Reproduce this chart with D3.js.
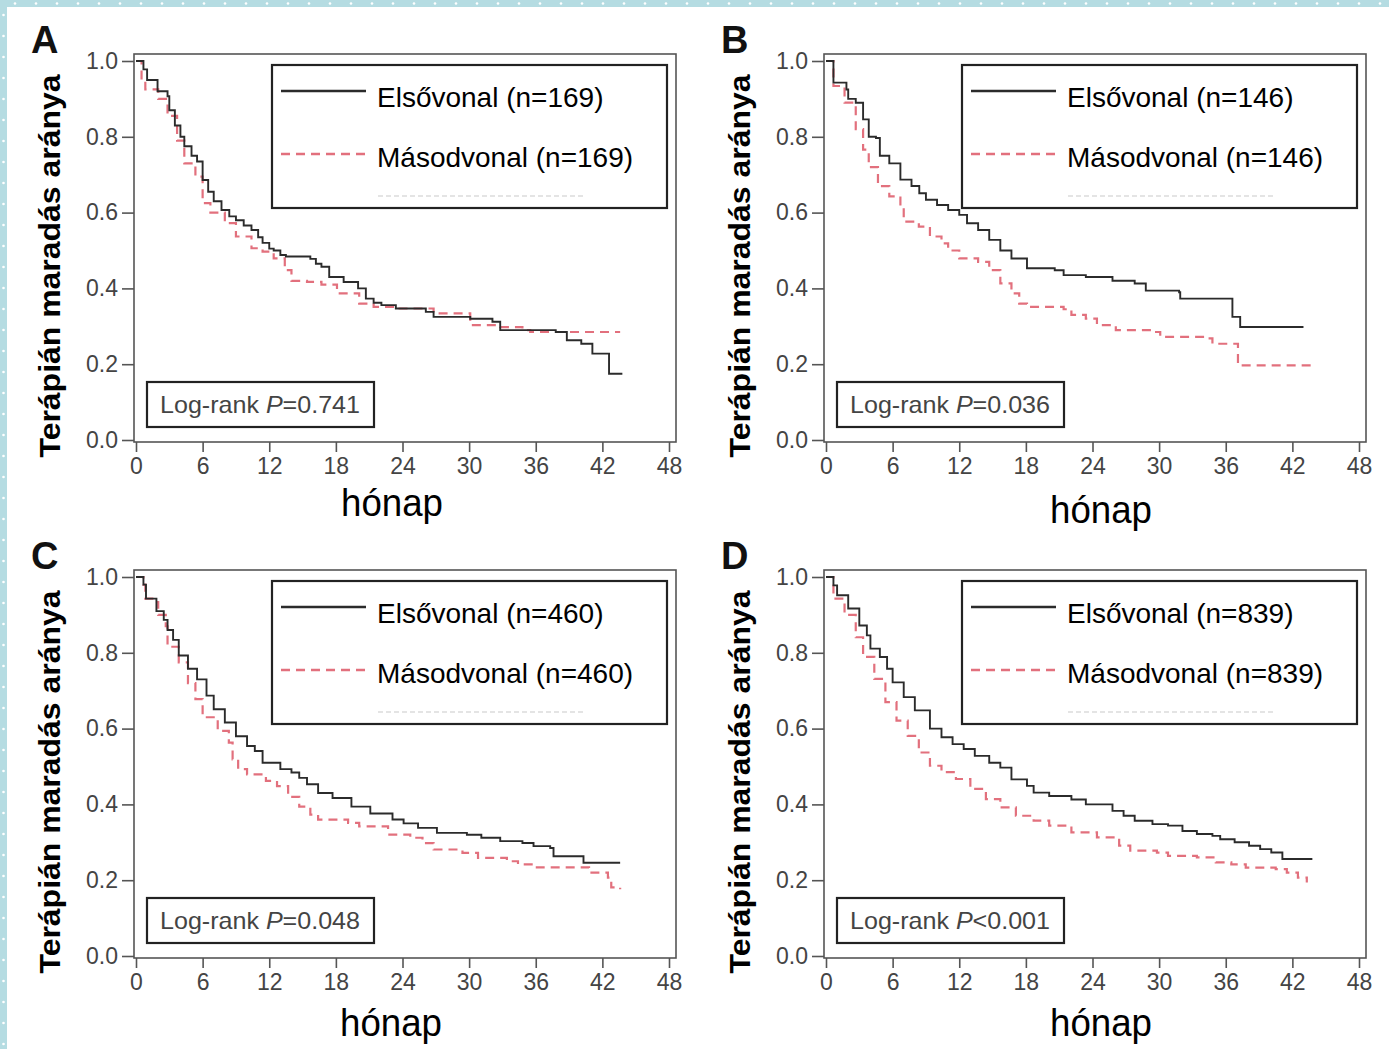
<!DOCTYPE html>
<html>
<head>
<meta charset="utf-8">
<script src="https://cdn.jsdelivr.net/npm/d3@7"></script>
<style>
  body { margin: 0; background: #fff; }
  svg { display: block; font-family: "Liberation Sans", Arial, sans-serif; }
</style>
</head>
<body>
<div id="chart"></div>
<script>
// survival curves: [month, proportion still on therapy]
var aFirst = [[0,1],[0.67,0.978],[1.0,0.95],[1.94,0.92],[2.84,0.907],[3.0,0.87],[3.5,0.83],[4.0,0.80],[4.35,0.775],[5.0,0.75],[5.5,0.735],[6.0,0.686],[6.5,0.655],[7.0,0.63],[7.7,0.607],[8.4,0.59],[9.0,0.58],[9.7,0.566],[10.4,0.554],[11.0,0.535],[11.4,0.52],[12.0,0.505],[12.4,0.5],[13.0,0.488],[13.5,0.484],[15.7,0.478],[16.2,0.465],[16.7,0.457],[17.4,0.43],[18.7,0.417],[20.0,0.40],[20.7,0.373],[21.4,0.362],[22.1,0.356],[23.4,0.347],[26.1,0.338],[26.8,0.325],[30.1,0.32],[32.1,0.312],[32.8,0.29],[37.8,0.285],[38.8,0.263],[40.1,0.254],[41.1,0.228],[42.6,0.175],[43.8,0.175]];
var aSecond = [[0,1],[0.5,0.95],[0.84,0.925],[2.0,0.90],[2.84,0.855],[3.7,0.79],[4.35,0.73],[5.35,0.695],[6.0,0.625],[6.7,0.6],[8.0,0.572],[9.0,0.537],[10.4,0.506],[11.4,0.497],[12.4,0.479],[13.4,0.448],[14.0,0.42],[15.4,0.417],[16.7,0.41],[18.1,0.387],[20.1,0.36],[21.4,0.351],[23.4,0.347],[26.8,0.334],[30.1,0.303],[32.8,0.298],[34.8,0.29],[35.5,0.285],[43.6,0.285]];

var bFirst = [[0,1],[0.67,0.943],[1.84,0.925],[2.0,0.90],[2.68,0.89],[3.34,0.846],[3.85,0.80],[4.5,0.797],[4.85,0.75],[5.7,0.73],[6.7,0.687],[7.7,0.67],[8.4,0.651],[9.0,0.634],[10.0,0.62],[11.0,0.607],[12.0,0.594],[12.7,0.572],[13.7,0.554],[14.7,0.528],[15.7,0.50],[16.7,0.479],[18.1,0.453],[20.6,0.448],[21.4,0.435],[23.4,0.43],[25.8,0.42],[27.8,0.413],[28.8,0.394],[31.8,0.39],[31.9,0.373],[36.6,0.325],[37.3,0.298],[43.0,0.298]];
var bSecond = [[0,1],[0.67,0.934],[1.67,0.89],[2.68,0.82],[3.34,0.766],[3.85,0.72],[4.68,0.67],[5.7,0.643],[6.7,0.616],[7.0,0.576],[8.36,0.563],[9.36,0.537],[10.4,0.519],[11.0,0.50],[12.0,0.479],[13.7,0.47],[14.7,0.448],[15.7,0.413],[16.7,0.387],[17.4,0.36],[18.1,0.351],[21.4,0.345],[22.1,0.33],[23.4,0.32],[24.4,0.303],[26.1,0.29],[29.4,0.285],[30.1,0.272],[34.4,0.268],[34.8,0.254],[37.1,0.197],[43.8,0.197]];

var cFirst = [[0,1],[0.67,0.98],[0.9,0.943],[1.84,0.91],[2.5,0.887],[2.84,0.86],[3.34,0.834],[3.85,0.793],[4.68,0.758],[5.5,0.73],[6.35,0.687],[7.0,0.651],[8.0,0.616],[9.0,0.58],[10.0,0.554],[10.7,0.541],[11.4,0.51],[13.0,0.493],[14.0,0.484],[14.7,0.47],[15.4,0.453],[16.4,0.43],[17.7,0.417],[19.4,0.394],[21.1,0.376],[23.1,0.36],[24.1,0.35],[25.4,0.338],[27.1,0.325],[29.8,0.32],[31.1,0.312],[32.8,0.303],[34.8,0.298],[35.8,0.29],[37.3,0.285],[37.6,0.263],[40.3,0.246],[43.6,0.246]];
var cSecond = [[0,1],[0.67,0.98],[0.84,0.943],[1.67,0.934],[2.0,0.90],[2.68,0.87],[2.84,0.816],[3.85,0.775],[4.68,0.72],[5.35,0.678],[6.0,0.63],[7.36,0.594],[8.36,0.563],[8.7,0.519],[9.2,0.493],[10.0,0.479],[11.7,0.462],[12.7,0.448],[13.7,0.42],[14.7,0.394],[15.7,0.373],[16.4,0.36],[19.1,0.351],[20.1,0.342],[22.7,0.32],[24.7,0.312],[25.8,0.298],[26.8,0.281],[29.4,0.272],[30.8,0.259],[33.4,0.25],[34.4,0.242],[36.1,0.234],[40.8,0.22],[42.5,0.207],[42.8,0.181],[43.6,0.176]];

var dFirst = [[0,1],[0.67,0.978],[1.0,0.952],[2.0,0.917],[3.0,0.872],[3.68,0.846],[4.0,0.811],[4.85,0.789],[5.5,0.758],[6.0,0.722],[7.0,0.683],[8.0,0.648],[9.36,0.6],[10.4,0.577],[11.4,0.559],[12.4,0.546],[13.4,0.528],[14.7,0.51],[15.7,0.497],[16.7,0.466],[18.1,0.449],[18.7,0.431],[20.1,0.422],[22.1,0.413],[23.4,0.40],[25.8,0.383],[26.8,0.37],[27.8,0.357],[29.4,0.348],[30.8,0.344],[32.1,0.33],[33.4,0.322],[34.8,0.317],[35.5,0.308],[36.8,0.30],[38.1,0.291],[39.1,0.282],[40.1,0.273],[41.1,0.256],[43.8,0.256]];
var dSecond = [[0,1],[0.67,0.943],[1.67,0.90],[2.68,0.841],[3.34,0.789],[4.35,0.731],[5.35,0.67],[6.35,0.621],[7.36,0.581],[8.36,0.537],[9.36,0.502],[10.4,0.485],[11.7,0.467],[13.0,0.441],[14.4,0.414],[15.7,0.392],[17.1,0.37],[18.7,0.357],[20.1,0.344],[22.1,0.326],[24.4,0.313],[26.4,0.291],[27.4,0.278],[29.8,0.273],[30.8,0.264],[33.4,0.26],[35.1,0.247],[36.5,0.242],[37.8,0.233],[40.5,0.229],[41.5,0.22],[42.5,0.207],[43.3,0.194]];

var panelLetters = ["A", "B", "C", "D"];
var sampleSizes = [169, 146, 460, 839];
var pTexts = ["=0.741", "=0.036", "=0.048", "<0.001"];
var xTicks = [0, 6, 12, 18, 24, 30, 36, 42, 48];
var yTicks = [0, 0.2, 0.4, 0.6, 0.8, 1.0];
var firstSeries = [aFirst, bFirst, cFirst, dFirst];
var secondSeries = [aSecond, bSecond, cSecond, dSecond];

var W = 1389, H = 1049;
var svg = d3.select("#chart").append("svg").attr("width", W).attr("height", H);

// page border strip with little dots
var edge = "#b5dce2";
svg.append("rect").attr("x", 0).attr("y", 0).attr("width", W).attr("height", 7).attr("fill", edge);
svg.append("rect").attr("x", 0).attr("y", 0).attr("width", 7).attr("height", H).attr("fill", edge);
svg.selectAll("circle.top").data(d3.range(15, W, 21)).enter().append("circle")
  .attr("cx", function(d) { return d; }).attr("cy", 3.5).attr("r", 1.3).attr("fill", "#fff");
svg.selectAll("circle.left").data(d3.range(15, H, 21)).enter().append("circle")
  .attr("cx", 3.5).attr("cy", function(d) { return d; }).attr("r", 1.3).attr("fill", "#fff");

var frameW = 542, frameH = 388;
var x = d3.scaleLinear().domain([0, 48]).range([2, 535]);
var y = d3.scaleLinear().domain([0, 1]).range([386, 7]);

var line = d3.line()
  .x(function(d) { return x(d[0]); })
  .y(function(d) { return y(d[1]); })
  .curve(d3.curveStepAfter);

var origins = [[134, 54], [824, 54], [134, 570], [824, 570]];
var titleOffsets = [[258, 462], [277, 469], [257, 466], [277, 466]];

var redCol = "#e2707d", blackCol = "#2b2b2b";

origins.forEach(function(o, i) {
  var g = svg.append("g").attr("transform", "translate(" + o[0] + "," + o[1] + ")");

  g.append("rect").attr("width", frameW).attr("height", frameH)
    .attr("fill", "none").attr("stroke", "#555").attr("stroke-width", 1.6);

  var ya = g.append("g")
    .call(d3.axisLeft(y).tickValues(yTicks).tickFormat(d3.format(".1f")).tickSize(12).tickPadding(4));
  var xa = g.append("g").attr("transform", "translate(0," + frameH + ")")
    .call(d3.axisBottom(x).tickValues(xTicks).tickSize(10).tickPadding(6));
  [ya, xa].forEach(function(a) {
    a.select(".domain").remove();
    a.selectAll(".tick line").attr("stroke", "#555").attr("stroke-width", 1.6);
    a.selectAll(".tick text").attr("fill", "#444").style("font-size", "23px")
      .style("font-family", "'Liberation Sans', Arial, sans-serif");
  });

  // curves
  g.append("path").datum(secondSeries[i]).attr("d", line)
    .attr("fill", "none").attr("stroke", redCol).attr("stroke-width", 2.2)
    .attr("stroke-dasharray", "9,6");
  g.append("path").datum(firstSeries[i]).attr("d", line)
    .attr("fill", "none").attr("stroke", blackCol).attr("stroke-width", 1.9);

  // legend
  var lg = g.append("g");
  lg.append("rect").attr("x", 138).attr("y", 11).attr("width", 395).attr("height", 143)
    .attr("fill", "#fff").attr("stroke", "#222").attr("stroke-width", 2.2);
  lg.append("line").attr("x1", 147).attr("x2", 232).attr("y1", 37).attr("y2", 37)
    .attr("stroke", blackCol).attr("stroke-width", 2.4);
  lg.append("line").attr("x1", 147).attr("x2", 232).attr("y1", 100).attr("y2", 100)
    .attr("stroke", redCol).attr("stroke-width", 2.6).attr("stroke-dasharray", "9,6");
  lg.append("line").attr("x1", 244).attr("x2", 450).attr("y1", 142).attr("y2", 142)
    .attr("stroke", "#e4e4e4").attr("stroke-width", 2).attr("stroke-dasharray", "5,3");
  lg.append("text").attr("x", 243).attr("y", 53).attr("fill", "#000").style("font-size", "28px")
    .text("Elsővonal (n=" + sampleSizes[i] + ")");
  lg.append("text").attr("x", 243).attr("y", 113).attr("fill", "#000").style("font-size", "28px")
    .text("Másodvonal (n=" + sampleSizes[i] + ")");

  // log-rank box
  g.append("rect").attr("x", 13).attr("y", 328).attr("width", 227).attr("height", 45)
    .attr("fill", "#fff").attr("stroke", "#222").attr("stroke-width", 2.2);
  var t = g.append("text").attr("x", 26).attr("y", 359).attr("fill", "#444").style("font-size", "24px")
    .attr("textLength", 200).attr("lengthAdjust", "spacingAndGlyphs");
  t.append("tspan").text("Log-rank ");
  t.append("tspan").style("font-style", "italic").text("P");
  t.append("tspan").text(pTexts[i]);

  // axis titles and panel letter
  g.append("text").attr("transform", "translate(-74," + 212 + ") rotate(-90)")
    .attr("text-anchor", "middle").attr("fill", "#000")
    .style("font-size", "30px").style("font-weight", "bold")
    .attr("textLength", 383).attr("lengthAdjust", "spacingAndGlyphs")
    .text("Terápián maradás aránya");
  g.append("text").attr("x", titleOffsets[i][0]).attr("y", titleOffsets[i][1])
    .attr("text-anchor", "middle").attr("fill", "#000").style("font-size", "38px")
    .attr("textLength", 102).attr("lengthAdjust", "spacingAndGlyphs")
    .text("hónap");
  g.append("text").attr("x", -103).attr("y", -1).attr("fill", "#111")
    .style("font-size", "38px").style("font-weight", "bold")
    .text(panelLetters[i]);
});
</script>
</body>
</html>
